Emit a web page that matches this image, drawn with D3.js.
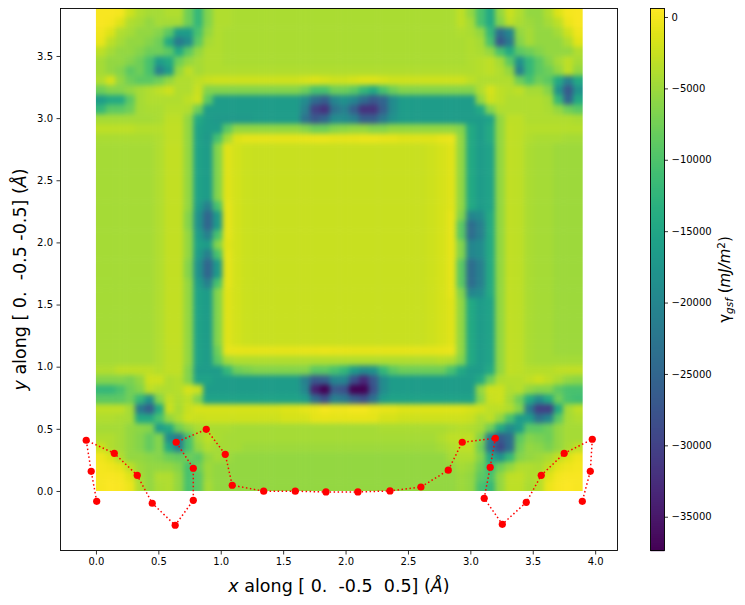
<!DOCTYPE html>
<html><head><meta charset="utf-8">
<script src="https://d3js.org/d3.v7.min.js"></script>
<style>html,body{margin:0;padding:0;background:#fff}svg{display:block}text{font-family:"DejaVu Sans";fill:#000}</style>
</head><body><svg id="c" width="745" height="605"></svg>
<script>
// Path points (x, y in Angstrom)
const pathX=[0.006,-0.038,-0.078,0.147,0.331,0.451,0.635,0.780,0.780,0.643,0.884,1.036,1.092,1.344,1.597,1.843,2.099,2.356,2.604,2.823,2.935,3.200,3.159,3.111,3.256,3.448,3.568,3.752,3.977,3.961,3.897];
const pathY=[-0.083,0.158,0.408,0.303,0.126,-0.099,-0.276,-0.075,0.183,0.392,0.496,0.295,0.046,-0.002,-0.002,-0.008,-0.008,0,0.032,0.167,0.392,0.424,0.191,-0.059,-0.268,-0.091,0.126,0.303,0.416,0.158,-0.083];
const xTicks=[0,0.5,1,1.5,2,2.5,3,3.5,4];
const yTicks=[0,0.5,1,1.5,2,2.5,3,3.5];
const cbTicks=[0,-5000,-10000,-15000,-20000,-25000,-30000,-35000];
const xDomain=[-0.288,4.183], yDomain=[-0.483,3.886];
const gridX=[0,3.9], gridY=[0,3.886], cbDomain=[-37400,630];
// gamma_gsf magnitude in thousands of mJ/m2 (sign applied when drawn); rows run top to bottom
const La=[4.5,4.5,4.5,4.5,4.5,4.5,3.9,2.8,2.8,5.5,15.5,16.5,6.5,1.2,2,2.4,2.6,2.6,2.6,2.6,2.6,2.6,2.6,2.6,2.6];
const Ls1=[4.5,4.5,4.5,4.5,4.5,4.5,3.9,2.8,2.8,5.5,16.5,21,10.5,1,2,2.4,2.6,2.6,2.6,2.6,2.6,2.6,2.6,2.6,2.6];
const Ls2=[4.5,4.5,4.5,4.5,4.5,4.5,3.9,2.8,2.8,6.5,18,25,17,.9,2,2.4,2.6,2.6,2.6,2.6,2.6,2.6,2.6,2.6,2.6];
const Ra=[2.6,2.6,2.6,2.6,2.6,2.6,2.6,2.6,2.6,2.3,1.8,1.2,5.5,14.5,16.5,15.5,5.5,3,3.2,4.2,4.5,4.5,5,5,5];
const Rs1=[2.6,2.6,2.6,2.6,2.6,2.6,2.6,2.6,2.6,2.3,1.8,1,6.5,20,19,14.5,5.5,3,3.2,4.2,4.5,4.5,5,5,5];
const Rs2=[2.6,2.6,2.6,2.6,2.6,2.6,2.6,2.6,2.6,2.3,1.8,.9,9,24,21,14.5,5.5,3,3.2,4.2,4.5,4.5,5,5,5];
const gsf=[
[-.3,-.3,.1,2.2,3.9,4.5,4.5,3.9,3.9,7.7,12,6.5,3.9,3.9,4.2,4.2,4.2,4.2,4.2,4.2,4.2,4.2,4.2,4.2,4.2, 4.2,4.2,4.2,4.2,4.2,4.2,4.2,4.2,4.2,4.2,4.2,4.2,3.2,5.5,10.5,14.5,5.5,2.6,3.9,5.5,5.5,3.9,1.4,.1,-.3],
[-.3,.1,1.4,3.9,4.5,5.5,4.5,4.5,4.5,7.7,12,6.5,3.9,3.9,4.2,4.2,4.2,4.2,4.2,4.2,4.2,4.2,4.2,4.2,4.2, 4.2,4.2,4.2,4.2,4.2,4.2,4.2,4.2,4.2,4.2,4.2,4.2,3.2,4.5,10.5,14.5,6.5,3.2,4.2,5,5.5,4.5,3.2,.5,-.3],
[.2,1.4,3.9,4.5,5.5,5.5,6.5,9,16.5,16.5,10.5,5.5,3.9,4.2,4.2,4.2,4.2,4.2,4.2,4.2,4.2,4.2,4.2,4.2,4.2, 4.2,4.2,4.2,4.2,4.2,4.2,4.2,4.2,4.2,4.2,4.2,4.2,3.9,4.2,5.5,12,24,20,5.5,4.5,5.5,5.5,4.5,2.2,.3],
[.6,3.2,4.5,5.5,5.5,6.5,7.7,14.5,22,19,9,4.5,3.9,4.2,4.2,4.2,4.2,4.2,4.2,4.2,4.2,4.2,4.2,4.2,4.2, 4.2,4.2,4.2,4.2,4.2,4.2,4.2,4.2,4.2,4.2,4.2,4.2,4.2,3.9,4.5,10.5,27,22,6.5,4.5,5.5,5.5,5.5,3.9,1.1],
[3.2,4.5,5.5,5.5,6.5,7.7,7.7,9,14.5,9,5.5,3.9,3.9,4.2,4.2,4.2,4.2,4.2,4.2,4.2,4.2,4.2,4.2,4.2,4.2, 4.2,4.2,4.2,4.2,4.2,4.2,4.2,4.2,4.2,4.2,4.2,4.2,4.2,3.9,4.2,5.5,10.5,14.5,9,7.7,6.5,5.5,5.5,5.5,3.9],
[4.5,5.5,5.5,6.5,7.7,10.5,16.5,14.5,7.7,5.5,4.5,3.9,3.9,4.2,4.2,4.2,4.2,4.2,4.2,4.2,4.2,4.2,4.2,4.2,4.2, 4.2,4.2,4.2,4.2,4.2,4.2,4.2,4.2,4.2,4.2,4.2,4.2,4.2,3.9,3.6,3.2,4.5,9,18,12,9,6.5,4.5,3.2,4.5],
[4.5,5.5,6.5,9,7.7,10.5,21,16.5,5.5,3.2,4.5,3.9,3.9,3.9,3.9,3.9,3.9,3.9,3.9,3.9,3.9,3.9,3.9,3.9,3.9, 3.9,3.9,3.9,3.9,3.9,3.9,3.9,3.9,3.9,3.9,3.9,3.9,3.9,3.9,3.6,3.2,3.9,5.5,21,12,9,7.7,5.5,3.2,5.5],
[3.9,1.8,5.5,7.7,9,9,7.7,5.5,3.9,3.9,3.2,2.6,2.3,2.3,2.3,2.3,2.3,2.3,2.3,2.3,2.3,1.8,1.4,1.8,2.3, 2.3,1.8,1.4,1.4,1.8,2.3,2.3,2.3,2.3,2.3,2.3,2.3,2.3,3.2,3.9,3.9,3.9,3.9,7.7,10.5,7.7,9,14.5,21,14.5],
[7.7,6.5,6.5,5.5,4.5,3.9,3.2,2.3,3.9,3.9,2.6,6.5,6.5,6.5,6.5,6.5,6.5,6.5,6.5,6.5,6.5,7.7,10.5,10.5,7.7, 7.7,9,12,14.5,10.5,7.7,6.5,6.5,6.5,6.5,6.5,6.5,6.5,6.5,3.9,1.8,3.2,3.6,3.2,4.5,4.5,6.5,18,27,18],
[16.5,14.5,14.5,9,4.5,3.9,3.9,3.9,3.9,3.2,2.3,9,16.5,16.5,16.5,16.5,16.5,16.5,16.5,16.5,16.5,19,24,26,20, 18,20,24,27,25,19,16.5,16.5,16.5,16.5,16.5,16.5,16.5,16.5,5.5,2.3,3.2,3.9,3.9,3.9,3.9,4.5,12,25,14.5],
[12,9,9,7.7,4.5,4.2,4.2,3.6,3.6,3.9,7.7,16.5,16.5,16.5,16.5,16.5,16.5,16.5,16.5,16.5,16.5,21,30,32,23, 21,26,32,32,26,19,16.5,16.5,16.5,16.5,16.5,16.5,16.5,16.5,14.5,6.5,3.9,3.9,3.9,3.9,3.9,4.2,5.5,7.7,9],
[4.5,4.5,4.5,4.5,4.5,4.5,4.2,3.2,3.2,5.5,14.5,16.5,17,17,17,17,16.5,16.5,16.5,16.5,16.5,23,27,25,19, 19,21,26,26,22,18,16.5,16.5,16.5,16.5,16.5,16.5,16.5,16.5,16.5,15.5,5.5,3.2,3.2,3.9,3.9,3.9,3.9,3.9,4.2],
[3.2,3.2,3.2,3.2,3.6,3.6,3.6,3,3,5.5,15.5,16.5,16.5,9,5.5,5.5,5.5,5.5,5.5,5.5,5.5,6.5,7.7,7.7,6.5, 6,5.5,5.5,6.5,6.5,5.5,5.5,5.5,5.5,5.5,5.5,5.5,6.5,14.5,16.5,14.5,5.5,3,3.2,3.6,3.6,3.6,3.6,3.6,3.6],
[4.2,4.2,4.2,4.2,4.2,4.2,3.9,3,3,5.5,15.5,17,10.5,4.5,1.4,1,1,1,1,1,1,.8,.6,.7,1, 1,.8,.6,.6,.8,1,1.2,1.2,1.2,1.2,.8,.7,5.5,14.5,16.5,14.5,5.5,3,3.2,3.9,4.2,4.2,4.2,4.5,4.5],
[...La,...Ra],[...La,...Ra],[...La,...Ra],[...La,...Ra],[...La,...Ra],[...La,...Ra],
[...Ls1,...Ra],[...Ls2,...Rs1],[...Ls2,...Rs2],[...Ls1,...Rs2],[...La,...Rs1],[...Ls1,...Rs1],[...Ls2,...Rs2],[...Ls2,...Rs2],[...Ls1,...Rs2],[...La,...Rs1],
[...La,...Ra],[...La,...Ra],[...La,...Ra],[...La,...Ra],[...La,...Ra],
[4.5,4.5,4.5,4.5,4.5,4.5,3.9,3,3,5.5,15.5,16.5,7.7,.8,.8,1,1,1,1,1,1,.8,.8,.6,.8, .8,1,1,1,1,1,1,1,1,1,.8,.7,5.5,14.5,16.5,15.5,5.5,3,3.2,4.2,4.5,4.5,5,5,5],
[4.5,4.5,4.5,4.5,4.5,4.5,3.9,3,3,5.5,15.5,16.5,9,4.5,3.9,3.9,3.9,3.9,3.9,3.9,3.9,3.9,3.9,3.9,3.9, 3.9,3.9,3.9,3.9,3.9,3.9,3.9,3.9,3.9,3.9,3.6,3.9,6.5,14.5,16.5,15.5,5.5,3,3.2,4.2,4.5,4.5,4.5,4.5,4.5],
[3.9,3.9,3.2,3.2,3.2,3.2,3.6,3,3,6.5,16.5,16.5,16.5,12,7.7,7,6.5,6.5,6.5,6.5,6.5,6.5,9,9,10.5, 12,16.5,19,18,12,9,7.7,7.7,7.7,7.7,7.7,10.5,14.5,16.5,16.5,14.5,5.5,3,3.2,3.6,3.6,3.6,3.2,3,3],
[6.5,6.5,6.5,7,5.5,2.3,2.3,3.9,3.6,6.5,15.5,15.5,16.5,16.5,16.5,16.5,16.5,16.5,16.5,16.5,16.5,21,27,26,20, 20,28,33,27,19,16.5,16.5,16.5,16.5,16.5,16.5,16.5,16.5,16.5,14.5,7.7,3.9,3.6,3.6,3,2.3,3.2,4.2,5.5,6],
[12,12,10.5,7.7,6.5,3.2,3.9,3.9,3.6,1.8,2.6,16.5,16.5,16.5,16.5,16.5,16.5,16.5,16.5,16.5,16.5,20,34,39,27, 28,38,39,28,19,16.5,16.5,16.5,16.5,16.5,16.5,16.5,16.5,16.5,5.5,2.3,2.3,3.9,3.6,5.5,6.5,6.5,9,10.5,10.5],
[9,9,9,7.7,12,18,6.5,3,3.9,3.2,6.5,15.5,15.5,15.5,15.5,15.5,15.5,15.5,15.5,15.5,15.5,16.5,24,28,21, 22,26,28,23,16.5,15.5,15.5,15.5,15.5,15.5,15.5,15.5,15.5,15.5,6.5,2.6,2.3,4.5,7.7,14.5,19,14.5,7.7,10.5,11],
[3.2,3.2,3.2,4.5,22,26,14.5,2.6,4.2,2.6,1.8,1.8,1.8,1.8,1.8,1.8,1.8,1.8,1.8,1.4,1.4,1,.6,.1,.3, .3,.1,.1,.6,.8,1,1.4,1.4,1.4,1.4,1.4,1.4,1.4,1.8,2.3,3.2,3.2,3.9,6.5,22,30,30,14.5,4.5,3.2],
[3.9,3.9,4.2,4.5,14.5,14.5,10.5,5.5,3.9,2.3,2.6,2.3,2.3,2.3,2.3,2.3,2.3,2.3,2.3,1.8,1.8,1.8,1,.8,1, 1,.8,.8,1,1.8,1.8,2.3,2.3,2.3,2.3,2.3,2.3,2.3,2.6,3.9,3.2,5.5,10.5,16.5,16.5,23,20,9,4.5,3.9],
[4.5,4.5,4.5,5.5,6,6.5,16.5,14.5,7.7,5.5,4.2,4.2,4.2,4.2,4.5,4.5,4.5,4.5,4.5,4.5,4.5,4.5,4.5,4.5,4.5, 4.5,4.5,4.5,4.5,4.2,4.2,4.2,4.2,4.2,4.2,4.2,3.9,3.6,3.9,4.5,7.7,14.5,19,16.5,9,9,7.7,5.5,4.5,4.5],
[3.9,3.9,4.5,5.5,6.5,8.3,6.5,19,22,10.5,4.5,3.2,4.2,4.5,4.5,4.5,4.5,4.5,4.5,4.5,4.5,4.5,4.5,4.5,4.5, 4.5,4.5,4.5,4.5,4.5,4.5,4.5,4.5,4.5,4.5,3.9,3.2,3.2,3,6.5,22,27,24,9,6.5,7,7.7,5.5,4.5,4.5],
[2.2,3.9,4.5,5.5,6.5,8.3,6.5,14.5,21,10.5,5.5,3.9,4.5,4.5,4.5,5,5,5,5,5,5,5,5,5,5, 5,5,5,5,5,5,5,5,5,5,4.5,3.9,3.2,3.2,7.7,23,29,24,7.7,5.5,6,7,5.5,4.2,3],
[.3,1.4,3.9,5.5,5.5,6,6.5,7.7,8.3,7.7,9,5.5,4.5,5,5.5,5.5,5.5,5.5,5.5,5.5,5.5,5.5,5.5,5.5,5.5, 5.5,5.5,5.5,5.5,5.5,5.5,5.5,5.5,5.5,5.5,5.5,4.5,3.9,3.9,6.5,14.5,18,12,6.5,5.5,5,4.2,2.8,1.4,.4],
[0,.3,.9,3.2,5,5.5,5.5,5.5,6.5,10.5,7.7,5,5.5,5.5,5.5,5.5,5.5,5.5,5.5,5.5,5.5,5.5,5.5,5.5,5.5, 5.5,5.5,5.5,5.5,5.5,5.5,5.5,5.5,5.5,5.5,5.5,5.5,4.5,5,7.7,12,7.7,5.5,3.9,3.9,4.2,2.8,.9,.3,0],
[-.1,-.3,0,1.2,4.5,5.5,3.9,3.9,5.5,10.5,9,5,5.5,5.5,5.5,5.5,5.5,5.5,5.5,5.5,5.5,5.5,5.5,5.5,5.5, 5.5,5.5,5.5,5.5,5.5,5.5,5.5,5.5,5.5,5.5,5.5,5.5,5,5.5,9,10.5,5.5,3.2,3,3.9,3.6,1.2,0,-.3,-.2],
[-.1,-.4,-.2,.5,3.9,5.5,4.2,3.9,5.5,10.5,9,4.5,5.5,5.5,5.5,5.5,5.5,5.5,5.5,5.5,5.5,5.5,5.5,5.5,5.5, 5.5,5.5,5.5,5.5,5.5,5.5,5.5,5.5,5.5,5.5,5.5,5.5,5,5.5,10.5,12,5.5,3.2,3.2,4.2,3.6,.5,-.2,-.4,-.2]
];

const W=745,H=605,m={l:60,r:618,t:8,b:551};
const svg=d3.select('#c');
const x=d3.scaleLinear().domain(xDomain).range([m.l,m.r]);
const y=d3.scaleLinear().domain(yDomain).range([m.b,m.t]);
const color=d3.scaleSequential(d3.interpolateViridis).domain(cbDomain);
const nR=gsf.length,nC=gsf[0].length;
const colEdge=d3.scaleLinear().domain([0,nC]).range(gridX.map(x));
const rowEdge=d3.scaleLinear().domain([0,nR]).range(gridY.slice().reverse().map(y));
const defs=svg.append('defs');
defs.append('clipPath').attr('id','hm').append('rect')
 .attr('x',x(gridX[0])).attr('y',y(gridY[1])).attr('width',x(gridX[1])-x(gridX[0])).attr('height',y(gridY[0])-y(gridY[1]));
defs.append('filter').attr('id','soft').attr('filterUnits','userSpaceOnUse')
 .attr('x',0).attr('y',0).attr('width',W).attr('height',H).attr('color-interpolation-filters','sRGB')
 .append('feGaussianBlur').attr('stdDeviation',2.4);
const over=14;
const cells=gsf.flatMap((row,r)=>row.map((v,c)=>({r,c,v:-v*1000})));
svg.append('g').attr('clip-path','url(#hm)').append('g').attr('filter','url(#soft)')
 .selectAll('rect').data(cells).join('rect')
 .attr('x',d=>colEdge(d.c)-(d.c===0?over:0))
 .attr('y',d=>rowEdge(d.r)-(d.r===0?over:0))
 .attr('width',d=>colEdge(d.c+1)-colEdge(d.c)+0.5+((d.c===0||d.c===nC-1)?over:0))
 .attr('height',d=>rowEdge(d.r+1)-rowEdge(d.r)+0.5+((d.r===0||d.r===nR-1)?over:0))
 .attr('fill',d=>color(d.v));
// path
const pts=pathX.map((v,i)=>[v,pathY[i]]);
svg.append('path').attr('d',d3.line().x(d=>x(d[0])).y(d=>y(d[1]))(pts))
 .attr('fill','none').attr('stroke','#ff0000').attr('stroke-width',1.5).attr('stroke-dasharray','1.5,2.5');
svg.append('g').selectAll('circle').data(pts).join('circle')
 .attr('cx',d=>x(d[0])).attr('cy',d=>y(d[1])).attr('r',3.6).attr('fill','#ff0000');
// frame and axes
svg.append('rect').attr('x',m.l+.5).attr('y',m.t+.5).attr('width',m.r-m.l-1).attr('height',m.b-m.t-1).attr('fill','none').attr('stroke','#000').attr('stroke-width',0.9);
function style(g){g.select('.domain').remove();g.selectAll('.tick line').attr('stroke','#000').attr('stroke-width',0.8);g.selectAll('.tick text').attr('font-size',10).attr('font-family','DejaVu Sans').attr('fill','#000');}
svg.append('g').attr('transform',`translate(0,${m.b})`).call(d3.axisBottom(x).tickValues(xTicks).tickSize(3.5).tickPadding(3.5).tickFormat(d3.format('.1f'))).call(style);
svg.append('g').attr('transform',`translate(${m.l},0)`).call(d3.axisLeft(y).tickValues(yTicks).tickSize(3.5).tickPadding(3.5).tickFormat(d3.format('.1f'))).call(style);
const xl=svg.append('text').attr('x',339).attr('y',592).attr('text-anchor','middle').attr('font-size',17.5).style('white-space','pre');
xl.append('tspan').attr('font-style','italic').text('x');
xl.append('tspan').text(' along [ 0.  -0.5  0.5] (');
xl.append('tspan').attr('font-style','italic').text('Å');
xl.append('tspan').text(')');
const yl=svg.append('text').attr('transform','translate(26,279.5) rotate(-90)').attr('text-anchor','middle').attr('font-size',17.5).style('white-space','pre');
yl.append('tspan').attr('font-style','italic').text('y');
yl.append('tspan').text(' along [ 0.  -0.5 -0.5] (');
yl.append('tspan').attr('font-style','italic').text('Å');
yl.append('tspan').text(')');
// colour bar
const cb={l:650.5,r:664.5};
const cy=d3.scaleLinear().domain(cbDomain).range([m.b,m.t]);
const slices=d3.range(m.t,m.b);
svg.append('g').selectAll('rect').data(slices).join('rect')
 .attr('x',cb.l).attr('width',cb.r-cb.l).attr('y',d=>d).attr('height',1.2).attr('fill',d=>color(cy.invert(d+.5)));
svg.append('rect').attr('x',cb.l).attr('y',m.t+.5).attr('width',cb.r-cb.l).attr('height',m.b-m.t-1).attr('fill','none').attr('stroke','#000').attr('stroke-width',0.9);
svg.append('g').attr('transform',`translate(${cb.r},0)`).call(d3.axisRight(cy).tickValues(cbTicks).tickSize(3.5).tickPadding(3.5).tickFormat(d=>String(d).replace('-','\u2212'))).call(style);
const cl=svg.append('text').attr('transform','translate(730,279.5) rotate(-90)').attr('text-anchor','middle').attr('font-size',15);
cl.append('tspan').text('γ');
cl.append('tspan').attr('font-size',10.5).attr('font-style','italic').attr('dy',3).text('gsf');
cl.append('tspan').attr('dy',-3).text(' (');
cl.append('tspan').attr('font-style','italic').text('mJ/m');
cl.append('tspan').attr('font-size',10.5).attr('dy',-5).text('2');
cl.append('tspan').attr('dy',5).text(')');
</script></body></html>
